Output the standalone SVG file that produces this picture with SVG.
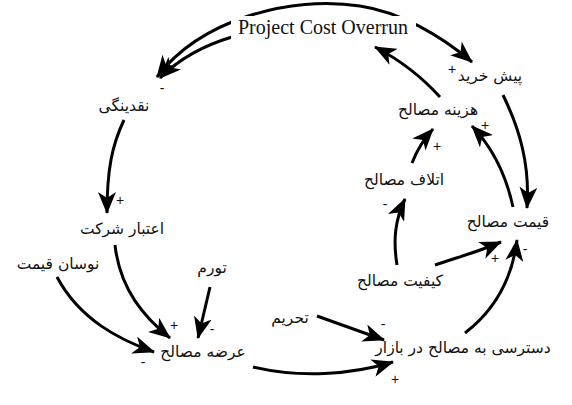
<svg xmlns="http://www.w3.org/2000/svg" width="572" height="405" viewBox="0 0 572 405">
<style>
.fa{font-family:"DejaVu Sans",sans-serif;font-size:15.5px;fill:#111;text-anchor:middle;direction:rtl}
.en{font-family:"Liberation Serif",serif;font-size:20px;fill:#111;text-anchor:middle}
.sg{font-family:"Liberation Sans",sans-serif;font-size:14px;fill:#111;text-anchor:middle}
.c{fill:none;stroke:#000;stroke-width:3;marker-end:url(#ah)}
</style>
<defs>
<marker id="ah" viewBox="0 0 22 18" refX="21" refY="9" markerWidth="22" markerHeight="18" markerUnits="userSpaceOnUse" orient="auto-start-reverse">
<path d="M0,0 L22,9 L0,18 L6,9 z" fill="#000"/>
</marker>
</defs>
<rect width="572" height="405" fill="#fff"/>
<g id="connectors">
<path class="c" style="marker-start:url(#ah)" d="M157 77 C200 20,290 -5,360 6 C400 12,440 35,472 62"/>
<path class="c" d="M232 37 C205 45,180 58,160 78"/>
<path class="c" d="M440 97 C420 75,400 60,375 47"/>
<path class="c" d="M503 95 C520 130,530 165,527 208"/>
<path class="c" d="M513 207 C505 170,490 145,472 126"/>
<path class="c" d="M412 163 C417 150,423 140,433 129"/>
<path class="c" d="M397 265 C393 240,395 220,405 199"/>
<path class="c" d="M435 265 C455 258,478 252,501 242"/>
<path class="c" d="M465 333 C495 310,512 280,517 240"/>
<path class="c" d="M317 316 L384 340"/>
<path class="c" d="M253 367 C300 378,350 375,393 362"/>
<path class="c" d="M57 277 C80 320,120 340,154 352"/>
<path class="c" d="M115 245 C120 290,145 318,170 338"/>
<path class="c" d="M210 287 L198 338"/>
<path class="c" d="M124 120 C112 145,107 170,107 213"/>
</g>
<g id="signs">
<text class="sg" x="162" y="93">-</text>
<text class="sg" x="452" y="74">+</text>
<text class="sg" x="120" y="205">+</text>
<text class="sg" x="174" y="330">+</text>
<text class="sg" x="212" y="334">-</text>
<text class="sg" x="143" y="367">-</text>
<text class="sg" x="395" y="384">+</text>
<text class="sg" x="383" y="329">-</text>
<text class="sg" x="525" y="254">-</text>
<text class="sg" x="495" y="263">+</text>
<text class="sg" x="385" y="209">-</text>
<text class="sg" x="437" y="151">+</text>
<text class="sg" x="485" y="130">+</text>
</g>
<g id="pco"><rect x="231" y="16" width="185" height="24" fill="#fff"/><text class="en" x="323" y="34">Project Cost Overrun</text></g>
<g id="naghdinegi"><text class="fa" x="124" y="111">نقدینگی</text></g>
<g id="etebar"><text class="fa" x="122" y="234">اعتبار شرکت</text></g>
<g id="navasan"><text class="fa" x="58" y="269">نوسان قیمت</text></g>
<g id="tavarom"><text class="fa" x="212" y="273">تورم</text></g>
<g id="arzeh"><text class="fa" x="203" y="357">عرضه مصالح</text></g>
<g id="tahrim"><text class="fa" x="290" y="323">تحریم</text></g>
<g id="dastresi"><text class="fa" x="463" y="353">دسترسی به مصالح در بازار</text></g>
<g id="keyfiat"><text class="fa" x="400" y="286">کیفیت مصالح</text></g>
<g id="gheymat"><text class="fa" x="508" y="227">قیمت مصالح</text></g>
<g id="etlaf"><text class="fa" x="404" y="185">اتلاف مصالح</text></g>
<g id="hazineh"><text class="fa" x="438" y="115">هزینه مصالح</text></g>
<g id="pishkharid"><text class="fa" x="490" y="81">پیش خرید</text></g>
</svg>
